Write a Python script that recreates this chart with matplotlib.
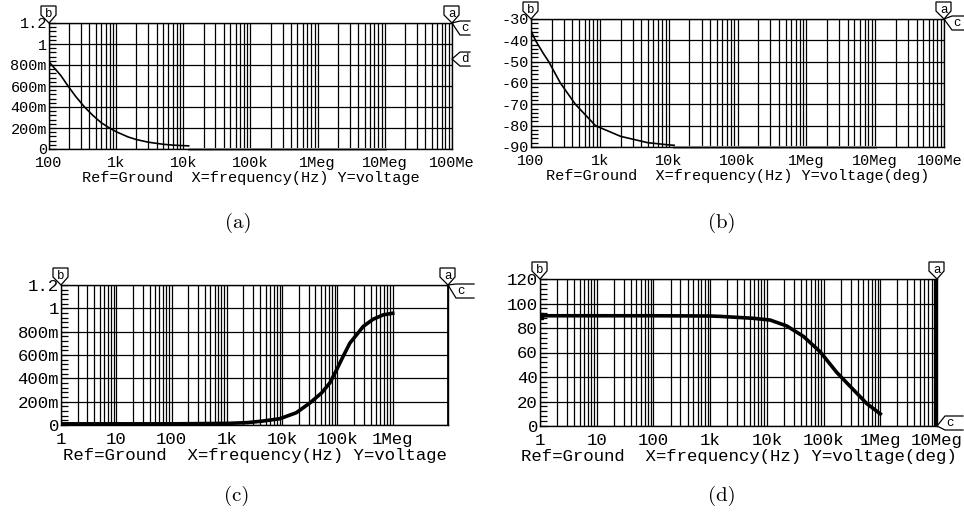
import numpy as np
import matplotlib
matplotlib.use("Agg")
import matplotlib.pyplot as plt
from matplotlib.ticker import MultipleLocator, NullLocator
from matplotlib.patches import Polygon
from matplotlib.transforms import ScaledTranslation

# ---------------- data ----------------
# (a) magnitude, low-pass
a_freq = [100, 150, 192, 250, 338, 450, 600, 795, 1000, 1500, 2000, 3000, 5000, 7000, 10000, 12000]
a_val = [0.83, 0.70, 0.60, 0.50, 0.40, 0.32, 0.25, 0.20, 0.165, 0.115, 0.09, 0.065, 0.045, 0.037, 0.032, 0.03]
a_tail_freq = [12000, 10e6]
a_tail_val = [0.0, 0.0]

# (b) phase, low-pass
b_freq = [100, 116, 150, 181, 267, 442, 866, 2000, 5000, 10000, 12000]
b_val = [-35.5, -40, -46, -50, -60, -70, -80, -85, -88, -89, -89.2]
b_tail_freq = [12000, 10e6]
b_tail_val = [-90.0, -90.0]

# (c) magnitude, high-pass
c_freq = [1, 10, 100, 1000, 2300, 4500, 9100, 18000, 32000, 52000, 73000, 97000,
          127000, 168000, 222000, 293000, 444000, 674000, 1000000]
c_val = [0.01, 0.01, 0.01, 0.014, 0.02, 0.034, 0.054, 0.105, 0.19, 0.276, 0.361, 0.475,
         0.589, 0.702, 0.773, 0.845, 0.907, 0.944, 0.958]

# (d) phase, high-pass
d_freq = [1, 10, 100, 1000, 1490, 5800, 11400, 22400, 44000, 87000, 171000, 336000, 578000, 1000000]
d_val = [90, 90, 90, 89.8, 89.5, 87.9, 86.5, 81.7, 73.2, 60.6, 43.7, 29.6, 18.3, 9.9]

# ticks
ab_xticks = [1e2, 1e3, 1e4, 1e5, 1e6, 1e7, 1e8]
ab_xlabels = ["100", "1k", "10k", "100k", "1Meg", "10Meg", "100Me"]
cd_xticks = [1, 10, 100, 1e3, 1e4, 1e5, 1e6, 1e7]
c_xlabels = ["1", "10", "100", "1k", "10k", "100k", "1Meg", ""]
d_xlabels = ["1", "10", "100", "1k", "10k", "100k", "1Meg", "10Meg"]
mag_yticks = [0, 0.2, 0.4, 0.6, 0.8, 1.0, 1.2]
mag_ylabels = ["0", "200m", "400m", "600m", "800m", "1", "1.2"]
b_yticks = [-90, -80, -70, -60, -50, -40, -30]
b_ylabels = ["-90", "-80", "-70", "-60", "-50", "-40", "-30"]
d_yticks = [0, 20, 40, 60, 80, 100, 120]
d_ylabels = ["0", "20", "40", "60", "80", "100", "120"]

MONO = "Liberation Mono"
W, H = 964, 527
fig = plt.figure(figsize=(W / 100, H / 100), dpi=100)
fig.patch.set_facecolor("white")


def add_axes(l, r, t, b):
    return fig.add_axes([l / W, 1 - b / H, (r - l) / W, (b - t) / H])


def setup(ax, xlim, grid_max, yticks, ylabels, yminor, xticks, xlabels, xlabel, fs, pad, lpad):
    ax.set_xscale("log")
    ax.set_xlim(*xlim)
    ax.set_ylim(yticks[0], yticks[-1])
    ax.set_yticks(yticks)
    ax.set_yticklabels(ylabels, family=MONO, fontsize=fs)
    ax.yaxis.set_minor_locator(MultipleLocator(yminor))
    ax.tick_params(axis="y", which="both", direction="in", length=5, width=0.9, pad=1.5)
    ax.xaxis.set_minor_locator(NullLocator())
    ax.set_xticks(xticks)
    ax.set_xticklabels(xlabels, family=MONO, fontsize=fs)
    ax.tick_params(axis="x", which="both", length=0, pad=pad)
    ax.grid(axis="y", which="major", color="black", lw=0.9)
    ax.set_axisbelow(True)
    lo = int(round(np.log10(xlim[0])))
    hi = int(round(np.log10(grid_max)))
    gx = [m * 10.0 ** e for e in range(lo, hi) for m in range(1, 10)] + [grid_max]
    ax.vlines(gx, 0, 1, transform=ax.get_xaxis_transform(), colors="black", lw=0.9, zorder=1)
    for s in ax.spines.values():
        s.set_linewidth(1.0)
    ax.set_xlabel(xlabel, family=MONO, fontsize=fs, labelpad=lpad)


def flag_down(ax, xa, letter):
    w, h = ax.bbox.width, ax.bbox.height
    pts = [(0, 0), (-8, 8), (-8, 17), (7, 17), (7, 8)]
    poly = Polygon([(xa + px / w, 1 + py / h) for px, py in pts], closed=True,
                   transform=ax.transAxes, fill=True, facecolor="white",
                   edgecolor="black", lw=0.9, clip_on=False, zorder=5)
    ax.add_patch(poly)
    ax.text(xa, 1 + 9 / h, letter, transform=ax.transAxes, ha="center", va="center",
            fontsize=9, family=MONO, zorder=6)


def flag_left(ax, ya, letter, dy=0, length=18):
    w, h = ax.bbox.width, ax.bbox.height
    pts = [(length, 7 + dy), (8, 7 + dy), (0, 0), (8, -7 + dy), (length, -7 + dy)]
    xs = [1 + px / w for px, py in pts]
    ys = [ya + py / h for px, py in pts]
    ax.plot(xs, ys, transform=ax.transAxes, color="black", lw=0.9, clip_on=False, zorder=5)
    ax.text(1 + 13 / w, ya + dy / h, letter, transform=ax.transAxes, ha="center",
            va="center", fontsize=9, family=MONO, zorder=6)


# ---------------- (a) ----------------
axa = add_axes(49, 452, 23, 149)
setup(axa, (1e2, 1e8), 1e8, mag_yticks, mag_ylabels, 0.04, ab_xticks, ab_xlabels,
      "Ref=Ground  X=frequency(Hz) Y=voltage", 11, 5, 0.5)
axa.plot(a_tail_freq, a_tail_val, color="#a0a0a0", lw=2.2, zorder=2, clip_on=False)
axa.plot(a_freq, a_val, color="black", lw=1.2, zorder=3)
flag_down(axa, 0.0, "b")
flag_down(axa, 1.0, "a")
flag_left(axa, 1.0, "c", dy=-5, length=18)
flag_left(axa, 0.714, "d", dy=0, length=18)

# ---------------- (b) ----------------
axb = add_axes(531, 944, 19, 147)
setup(axb, (1e2, 1e8), 1e8, b_yticks, b_ylabels, 2, ab_xticks, ab_xlabels,
      "Ref=Ground  X=frequency(Hz) Y=voltage(deg)", 11, 5, 0.5)
axb.plot(b_tail_freq, b_tail_val, color="#a0a0a0", lw=2.2, zorder=2, clip_on=False)
axb.plot(b_freq, b_val, color="black", lw=1.2, zorder=3)
flag_down(axb, 0.0, "b")
flag_down(axb, 1.0, "a")
flag_left(axb, 1.0, "c", dy=-4, length=20)
# keep the last (clipped) label inside the picture, as in the reference
last = axb.get_xticklabels()[-1]
last.set_transform(last.get_transform() + ScaledTranslation(-4.5 / 100, 0, fig.dpi_scale_trans))

# ---------------- (c) ----------------
axc = add_axes(61, 448, 285, 425)
setup(axc, (1, 1e7), 1e6, mag_yticks, mag_ylabels, 0.04, cd_xticks, c_xlabels,
      "Ref=Ground  X=frequency(Hz) Y=voltage", 12.5, 5, 1)
axc.axvline(cd_xticks[-1], color="black", lw=2)
axc.plot(c_freq, c_val, color="black", lw=2.6, zorder=3)
flag_down(axc, 0.0, "b")
flag_down(axc, 1.0, "a")
flag_left(axc, 1.0, "c", dy=-6, length=26)

# ---------------- (d) ----------------
axd = add_axes(540, 937, 279, 426)
setup(axd, (1, 1e7), 1e7, d_yticks, d_ylabels, 4, cd_xticks, d_xlabels,
      "Ref=Ground  X=frequency(Hz) Y=voltage(deg)", 12.5, 5, 1)
axd.axvline(cd_xticks[-1], color="black", lw=3.2)
axd.plot(d_freq, d_val, color="black", lw=2.6, zorder=3, marker="s", markevery=[0], ms=5)
flag_down(axd, 1.0, "a")
flag_down(axd, 0.0, "b")
flag_left(axd, 0.0, "c", dy=3, length=26)

# captions
for x, y, t in [(238, 223, "(a)"), (722, 223, "(b)"), (237, 496, "(c)"), (722, 496, "(d)")]:
    fig.text(x / W, 1 - y / H, t, ha="center", va="center", fontsize=15, family="cmr10")

fig.savefig("out.png", dpi=100, facecolor="white")
